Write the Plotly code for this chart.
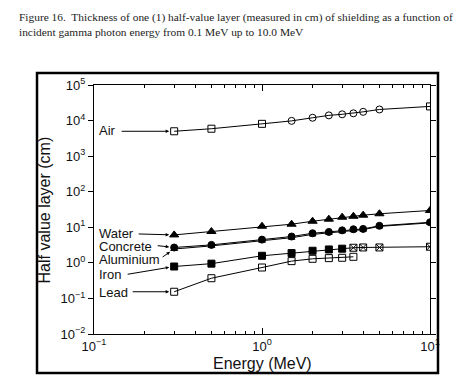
import numpy as np
import plotly.graph_objects as go

# ---- data ----
energy = [0.3, 0.5, 1.0, 1.5, 2.0, 2.5, 3.0, 3.5, 4.0, 5.0, 10.0]
energy_lead = [0.3, 0.5, 1.0, 1.5, 2.0, 2.5, 3.0, 3.5]

air = [5000, 5900, 8100, 9800, 12000, 14000, 15000, 16000, 17600, 20500, 25000]
water = [6.1, 7.6, 10.7, 12.2, 14.8, 16.9, 19.2, 20.4, 21.9, 24.0, 29.7]
concrete = [2.7, 3.2, 4.5, 5.5, 6.8, 7.4, 8.2, 8.8, 9.0, 11.0, 13.8]
aluminium = [2.45, 3.0, 4.2, 5.1, 6.3, 7.0, 7.7, 8.3, 8.6, 10.6, 13.3]
iron = [0.79, 0.95, 1.58, 1.88, 2.19, 2.38, 2.5, 2.66, 2.71, 2.71, 2.84]
lead = [0.154, 0.37, 0.74, 1.12, 1.30, 1.36, 1.39, 1.48]

x_tickvals = [0.1, 1, 10]
x_ticktext = ["10<sup>−1</sup>", "10<sup>0</sup>", "10<sup>1</sup>"]
y_tickvals = [0.01, 0.1, 1, 10, 100, 1000, 10000, 100000]
y_ticktext = ["10<sup>−2</sup>", "10<sup>−1</sup>", "10<sup>0</sup>", "10<sup>1</sup>",
              "10<sup>2</sup>", "10<sup>3</sup>", "10<sup>4</sup>", "10<sup>5</sup>"]

title_lines = [
    "Figure 16.  Thickness of one (1) half-value layer (measured in cm) of shielding as a function of",
    "incident gamma photon energy from 0.1 MeV up to 10.0 MeV",
]

# ---- styles ----
air_sym = ["square-open", "square-open", "square-open"] + ["circle-open"] * 7 + ["square-open"]
iron_sym = ["square"] * 7 + ["square-x-open"] * 4

series = [
    ("Air", energy, air, air_sym, 7),
    ("Water", energy, water, "triangle-up", 8),
    ("Concrete", energy, concrete, "circle", 7),
    ("Aluminium", energy, aluminium, "triangle-up-open", 6),
    ("Iron", energy, iron, iron_sym, 7),
    ("Lead", energy_lead, lead, "square-open", 7),
]

fig = go.Figure()
for name, xs, ys, sym, size in series:
    fig.add_trace(go.Scatter(
        x=xs, y=ys, mode="lines+markers", name=name,
        line=dict(color="black", width=1),
        marker=dict(symbol=sym, size=size, color="black",
                    line=dict(color="black", width=1)),
        showlegend=False,
    ))

FONT = "Liberation Sans, Arial, sans-serif"
LABEL_FONT = dict(family=FONT, size=13, color="#111")

# label positions (log units) and arrow tail offsets (px)
label_y = {"Air": 3.735, "Water": 0.839, "Concrete": 0.474,
           "Aluminium": 0.108, "Iron": -0.314, "Lead": -0.82}
arrow_off = {"Air": (-54, 0), "Water": (-37, -1), "Concrete": (-18, -2),
             "Aluminium": (-13, 9), "Iron": (-48, 8), "Lead": (-43, 0)}

annotations = []
for name, xs, ys, sym, size in series:
    annotations.append(dict(
        x=np.log10(0.104), y=label_y[name], xref="x", yref="y",
        text=name, showarrow=False, xanchor="left", yanchor="middle",
        font=LABEL_FONT,
    ))
    ax, ay = arrow_off[name]
    annotations.append(dict(
        x=np.log10(xs[0]), y=np.log10(ys[0]), xref="x", yref="y",
        text="", showarrow=True, ax=ax, ay=ay, axref="pixel", ayref="pixel",
        arrowhead=2, arrowsize=0.7, arrowwidth=1, arrowcolor="black", standoff=5,
    ))

annotations.append(dict(
    x=-0.146, y=0.5, xref="paper", yref="paper", text="Half value layer (cm)",
    textangle=-90, showarrow=False, xanchor="center", yanchor="middle",
    font=dict(family=FONT, size=16, color="#111"),
))
annotations.append(dict(
    x=0.5, y=-0.12, xref="paper", yref="paper", text="Energy (MeV)",
    showarrow=False, xanchor="center", yanchor="middle",
    font=dict(family=FONT, size=16, color="#111"),
))
annotations.append(dict(
    x=-0.229, y=1.305, xref="paper", yref="paper", xanchor="left", yanchor="top",
    align="left", showarrow=False,
    text="<br>".join(title_lines),
    font=dict(family="Liberation Serif, Times New Roman, serif", size=11.4, color="#222"),
))

# outer frame around the whole chart
frame = [dict(type="rect", xref="paper", yref="paper", layer="above",
              x0=-0.1696, x1=1.0238, y0=-0.1566, y1=1.048,
              line=dict(color="#000000", width=2.5))]

# the page body adds an 8 px margin, so the figure is 8 px smaller than the window
fig.update_layout(
    width=455, height=383,
    margin=dict(l=86, r=33, t=77, b=57),
    paper_bgcolor="white", plot_bgcolor="white",
    annotations=annotations,
    shapes=frame,
    font=dict(family=FONT, color="#111"),
)

fig.update_xaxes(
    type="log", range=[-1, 1], tickvals=x_tickvals, ticktext=x_ticktext,
    showgrid=False, zeroline=False,
    showline=True, linecolor="black", linewidth=1.3, mirror="allticks",
    ticks="inside", ticklen=6, tickcolor="black",
    minor=dict(ticks="inside", ticklen=3, dtick="D1", tickcolor="black", showgrid=False),
    tickfont=dict(size=13),
)
fig.update_yaxes(
    type="log", range=[-2, 5], tickvals=y_tickvals, ticktext=y_ticktext,
    showgrid=False, zeroline=False,
    showline=True, linecolor="black", linewidth=1.3, mirror="allticks",
    ticks="outside", ticklen=5, tickcolor="black",
    tickfont=dict(size=13),
)

fig.write_html("out.html")
